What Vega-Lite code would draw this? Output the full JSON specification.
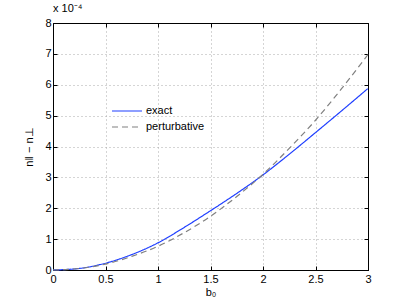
{
  "$schema": "https://vega.github.io/schema/vega-lite/v6.json",
  "width": 315,
  "height": 247,
  "autosize": {"type": "none"},
  "padding": {"left": 53, "top": 23, "right": 39, "bottom": 36},
  "config": {
    "font": "Liberation Sans",
    "view": {"stroke": "#000000", "strokeWidth": 1},
    "axis": {"labelFont": "Liberation Sans", "titleFont": "Liberation Sans", "labelFontSize": 11, "titleFontSize": 11, "titleFontWeight": "normal", "labelColor": "#000", "titleColor": "#000"}
  },
  "title": {"text": "x 10⁻⁴", "anchor": "start", "frame": "group", "offset": 3, "fontSize": 11, "fontWeight": "normal", "font": "Liberation Sans", "color": "#000"},
  "data": {"values": [
    {"b": 0, "v": 0, "s": "exact"},
    {"b": 0.25, "v": 0.05, "s": "exact"},
    {"b": 0.5, "v": 0.22, "s": "exact"},
    {"b": 0.75, "v": 0.5, "s": "exact"},
    {"b": 1, "v": 0.88, "s": "exact"},
    {"b": 1.25, "v": 1.38, "s": "exact"},
    {"b": 1.5, "v": 1.92, "s": "exact"},
    {"b": 1.75, "v": 2.48, "s": "exact"},
    {"b": 2, "v": 3.08, "s": "exact"},
    {"b": 2.25, "v": 3.75, "s": "exact"},
    {"b": 2.5, "v": 4.45, "s": "exact"},
    {"b": 2.75, "v": 5.16, "s": "exact"},
    {"b": 3, "v": 5.88, "s": "exact"},
    {"b": 0, "v": 0, "s": "perturbative"},
    {"b": 0.25, "v": 0.05, "s": "perturbative"},
    {"b": 0.5, "v": 0.19, "s": "perturbative"},
    {"b": 0.75, "v": 0.44, "s": "perturbative"},
    {"b": 1, "v": 0.77, "s": "perturbative"},
    {"b": 1.25, "v": 1.21, "s": "perturbative"},
    {"b": 1.5, "v": 1.74, "s": "perturbative"},
    {"b": 1.75, "v": 2.38, "s": "perturbative"},
    {"b": 2, "v": 3.1, "s": "perturbative"},
    {"b": 2.25, "v": 3.94, "s": "perturbative"},
    {"b": 2.5, "v": 4.85, "s": "perturbative"},
    {"b": 2.75, "v": 5.88, "s": "perturbative"},
    {"b": 3, "v": 6.98, "s": "perturbative"}
  ]},
  "resolve": {"axis": {"x": "independent", "y": "independent"}},
  "layer": [
    {
      "mark": {"type": "line", "strokeWidth": 1.2, "interpolate": "monotone"},
      "encoding": {
        "x": {"field": "b", "type": "quantitative", "scale": {"domain": [0, 3], "nice": false},
          "axis": {"title": "b₀", "values": [0, 0.5, 1, 1.5, 2, 2.5, 3], "format": "~g", "tickSize": -4, "tickColor": "#000", "domainColor": "#000", "labelPadding": 7, "titlePadding": 2, "grid": true, "gridDash": [1, 3], "gridColor": "#aaaaaa", "gridOpacity": 1, "labelFlush": false}},
        "y": {"field": "v", "type": "quantitative", "scale": {"domain": [0, 8], "nice": false},
          "axis": {"title": "n‖ − n⊥", "values": [0, 1, 2, 3, 4, 5, 6, 7, 8], "format": "~g", "tickSize": -4, "tickColor": "#000", "domainColor": "#000", "labelPadding": 6, "titlePadding": 10, "grid": true, "gridDash": [1, 3], "gridColor": "#aaaaaa", "gridOpacity": 1, "labelFlush": false}},
        "color": {"field": "s", "type": "nominal", "scale": {"domain": ["exact", "perturbative"], "range": ["#1f3fff", "#808080"]},
          "legend": {"title": null, "orient": "none", "legendX": 58, "legendY": 80, "symbolType": "stroke", "symbolSize": 900, "symbolStrokeWidth": 1.2, "labelFontSize": 11, "labelFont": "Liberation Sans", "labelColor": "#000", "rowPadding": 0, "clipHeight": 16, "labelOffset": 3}},
        "strokeDash": {"field": "s", "type": "nominal", "scale": {"domain": ["exact", "perturbative"], "range": [[1, 0], [6, 4]]}, "legend": {"title": null}}
      }
    },
    {
      "mark": {"type": "line", "opacity": 0},
      "encoding": {
        "x": {"field": "b", "type": "quantitative", "axis": {"orient": "top", "title": null, "labels": false, "values": [0, 0.5, 1, 1.5, 2, 2.5, 3], "tickSize": -4, "tickColor": "#000", "domainColor": "#000", "grid": false}},
        "y": {"field": "v", "type": "quantitative", "axis": {"orient": "right", "title": null, "labels": false, "values": [0, 1, 2, 3, 4, 5, 6, 7, 8], "tickSize": -4, "tickColor": "#000", "domainColor": "#000", "grid": false}},
        "detail": {"field": "s"}
      }
    }
  ]
}
